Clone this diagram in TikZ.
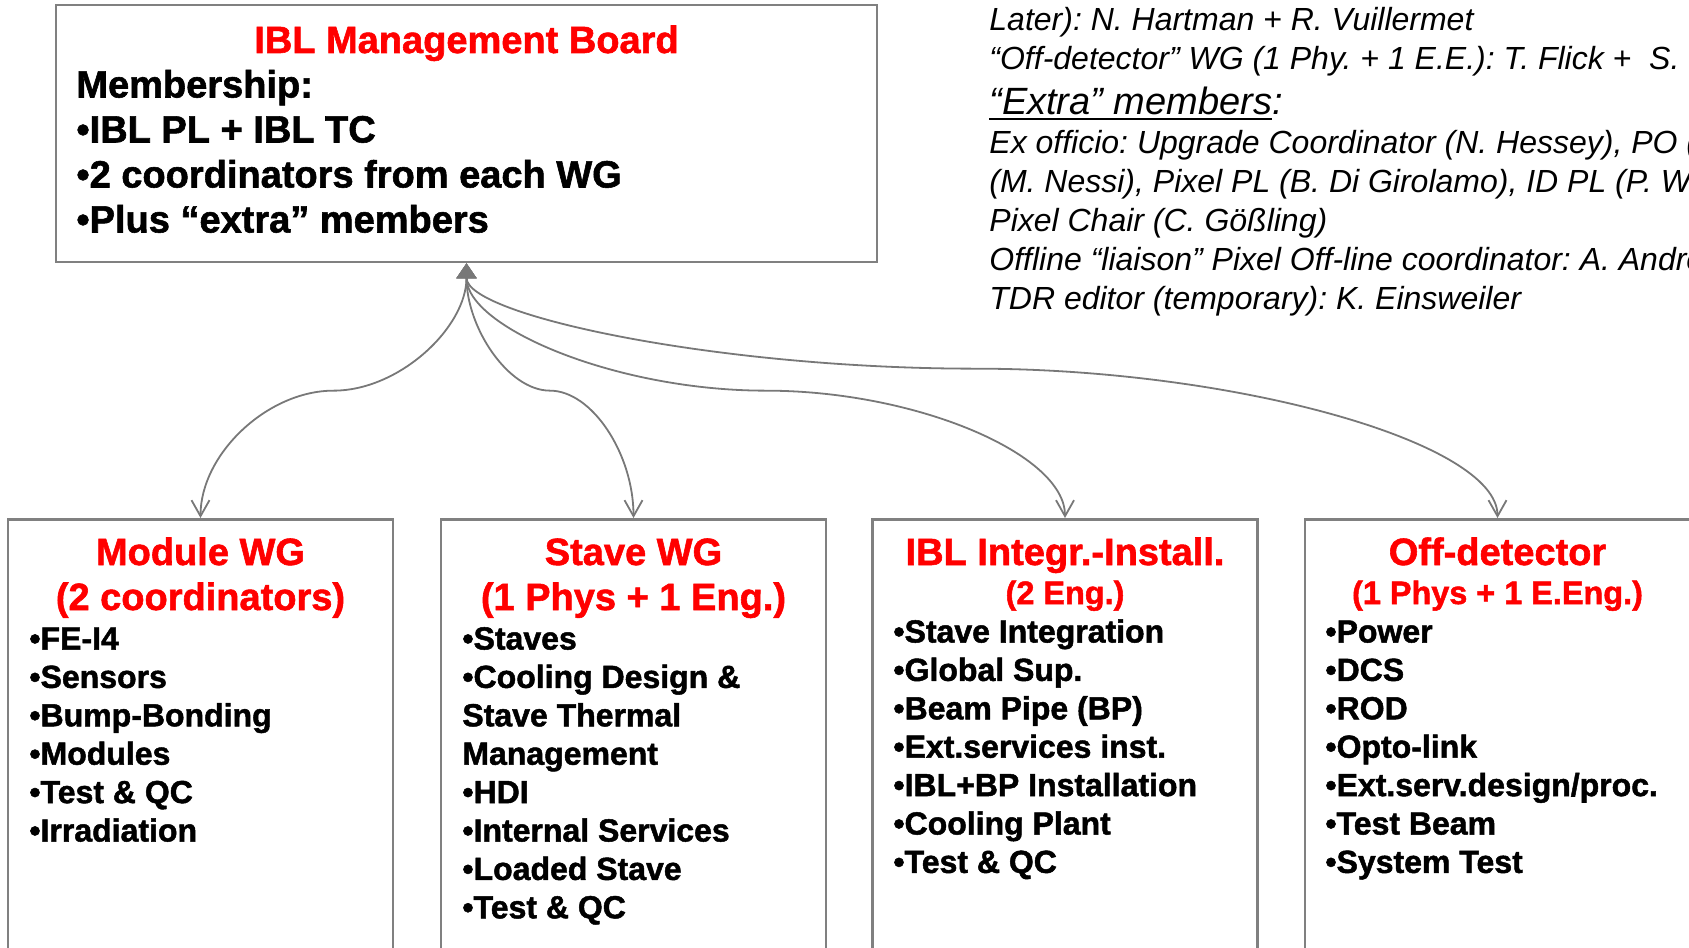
\documentclass[tikz,border=0pt]{standalone}
\usepackage{fontspec}
\setmainfont{Liberation Sans}[BoldFeatures={FakeBold=1.5}]
\usetikzlibrary{arrows.meta, positioning, calc}
\definecolor{ibred}{RGB}{255, 0, 0}
\definecolor{boxgray}{RGB}{128, 128, 128}
\definecolor{linkgray}{RGB}{120, 120, 120}
\newcommand{\ulx}[1]{\setbox0\hbox{#1}\rlap{\rule[-3.2pt]{\wd0}{1.3pt}}\box0}
\frenchspacing

\begin{document}
\begin{tikzpicture}[
  x=0.5pt, y=0.5pt,
  frame/.style={draw=boxgray, line width=1.3pt, inner sep=0pt},
  boardbox/.style={frame, minimum width=410.5pt, minimum height=128.5pt},
  wgbox/.style={frame, minimum width=192.5pt, minimum height=230pt, anchor=north},
  ttl/.style={text=ibred, font=\fontsize{19}{22.5}\selectfont\bfseries, align=center, inner sep=0pt, anchor=base},
  sub/.style={text=ibred, font=\fontsize{16.2}{19}\selectfont\bfseries, inner sep=0pt, anchor=base},
  items/.style={font=\fontsize{16}{19.2}\selectfont\bfseries, align=left, inner sep=0pt, anchor=base west},
  note/.style={font=\fontsize{16}{19.5}\selectfont\itshape, align=left, inner sep=0pt, anchor=base west},
  link/.style={draw=linkgray, line width=0.9pt, {Triangle[length=7.5pt,width=10pt]}-{Straight Barb[length=8pt,width=9pt]}}
]
\useasboundingbox (0,0) rectangle (1689,-947);

% management board (base of a multi-line node = its last line)
\node[boardbox] (board) at (466.5,-133.5) {};
\node[ttl] (boardT) at (466.5,-53) {IBL Management Board};
\node[items, font=\fontsize{19}{22.5}\selectfont\bfseries] (boardL) at (76,-232.5)
  {Membership:\\•IBL PL + IBL TC\\•2 coordinators from each WG\\•Plus “extra” members};

% extra members
\node[note] (extras) at (989,-309) {Later): N. Hartman + R. Vuillermet\\
  “Off-detector” WG (1 Phy. + 1 E.E.): T. Flick +\ \ S.\\[2.75pt]
  {\fontsize{19}{22}\selectfont\ulx{“Extra” members}:}\\
  Ex officio: Upgrade Coordinator (N. Hessey), PO (\\
  (M. Nessi), Pixel PL (B. Di Girolamo), ID PL (P. W\\
  Pixel Chair (C. Gößling)\\
  Offline “liaison” Pixel Off-line coordinator: A. Andre\\
  TDR editor (temporary): K. Einsweiler};

% working groups
\node[wgbox] (module) at (200.5,-518) {};
\node[ttl] (moduleT) at (200.5,-610) {Module WG\\(2 coordinators)};
\node[items] (moduleL) at (29,-841.5)
  {•FE-I4\\•Sensors\\•Bump-Bonding\\•Modules\\•Test \& QC\\•Irradiation};

\node[wgbox] (stave) at (633.5,-518) {};
\node[ttl] (staveT) at (633.5,-610) {Stave WG\\(1 Phys + 1 Eng.)};
\node[items] (staveL) at (462,-918.3)
  {•Staves\\•Cooling Design \&\\Stave Thermal\\Management\\•HDI\\•Internal Services\\•Loaded Stave\\•Test \& QC};

\node[wgbox] (integ) at (1065,-518) {};
\node[ttl] (integT) at (1065,-565) {IBL Integr.-Install.};
\node[sub] (integS) at (1065,-604) {(2 Eng.)};
\node[items] (integL) at (893,-872.9)
  {•Stave Integration\\•Global Sup.\\•Beam Pipe (BP)\\•Ext.services inst.\\•IBL+BP Installation\\•Cooling Plant\\•Test \& QC};

\node[wgbox] (offdet) at (1497.5,-518) {};
\node[ttl] (offdetT) at (1497.5,-565) {Off-detector};
\node[sub] (offdetS) at (1497.5,-604) {(1 Phys + 1 E.Eng.)};
\node[items] (offdetL) at (1325,-872.9)
  {•Power\\•DCS\\•ROD\\•Opto-link\\•Ext.serv.design/proc.\\•Test Beam\\•System Test};

% links, bent like curved connectors
\draw[link] (board.south)
  to[out=-90,in=0,out distance=32pt,in distance=33pt] ($(board.south)!.5!(module.north)$)
  to[out=180,in=90,out distance=33pt,in distance=32pt] (module.north);
\draw[link] (board.south)
  to[out=-90,in=180,out distance=32pt,in distance=21pt] ($(board.south)!.5!(stave.north)$)
  to[out=0,in=90,out distance=21pt,in distance=32pt] (stave.north);
\draw[link] (board.south)
  to[out=-90,in=180,out distance=32pt,in distance=75pt] ($(board.south)!.5!(integ.north)$)
  to[out=0,in=90,out distance=75pt,in distance=32pt] (integ.north);
\draw[link] (board.south)
  to[out=-90,in=180,out distance=26pt,in distance=129pt] ($(board.south)!.5!(offdet.north)+(-7,22)$)
  to[out=0,in=90,out distance=129pt,in distance=38pt] (offdet.north);
\end{tikzpicture}
\end{document}
